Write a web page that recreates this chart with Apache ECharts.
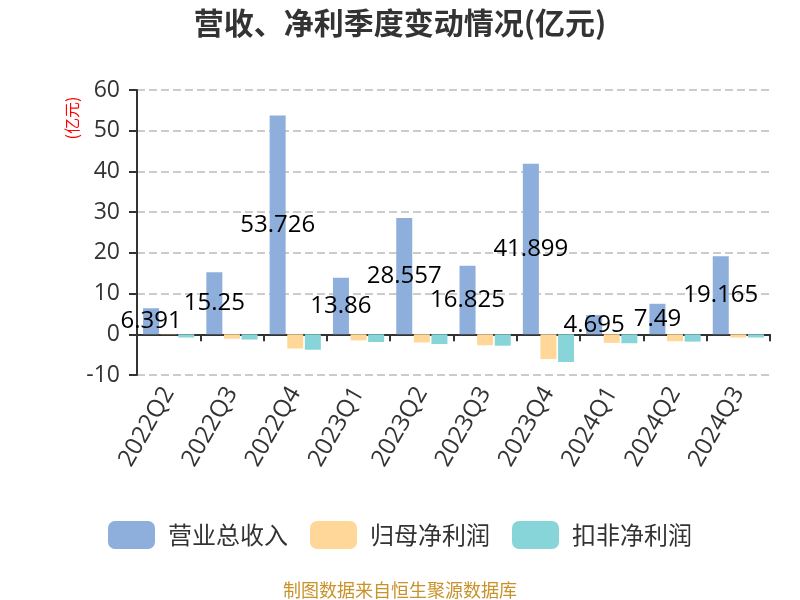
<!DOCTYPE html>
<html><head><meta charset="utf-8">
<script src="https://cdn.jsdelivr.net/npm/echarts@6/dist/echarts.min.js"></script>
<style>html,body{margin:0;padding:0;background:#fff}#c{width:800px;height:600px}</style>
</head><body><div id="c"></div>
<script>
var categories = ['2022Q2','2022Q3','2022Q4','2023Q1','2023Q2','2023Q3','2023Q4','2024Q1','2024Q2','2024Q3'];
var revenue = [6.391, 15.25, 53.726, 13.86, 28.557, 16.825, 41.899, 4.695, 7.49, 19.165];
var netProfit = [0.1, -1.1, -3.5, -1.5, -2.0, -2.7, -6.1, -2.1, -1.7, -0.8];
var deductedProfit = [-0.8, -1.3, -3.8, -1.9, -2.4, -2.8, -6.8, -2.2, -1.8, -0.8];
var seriesNames = ['营业总收入','归母净利润','扣非净利润'];
var FF = '"Open Sans", "Noto Sans CJK SC", sans-serif';
var CJK = '"Noto Sans CJK SC", sans-serif';

var chart = echarts.init(document.getElementById('c'));
chart.setOption({
  animation: false,
  textStyle: {fontFamily: FF},
  title: {text: '营收、净利季度变动情况(亿元)', left: 'center', top: 3,
    textStyle: {fontSize: 30, fontWeight: 'bold', color: '#333', fontFamily: CJK}},
  legend: {bottom: 46, itemWidth: 47, itemHeight: 28, itemGap: 22,
    icon: 'roundRect', textStyle: {fontSize: 24, color: '#333', fontFamily: CJK, padding: [0, 0, 0, 8]}, data: seriesNames},
  graphic: [
    {type: 'text', left: 'center', bottom: 1,
     style: {text: '制图数据来自恒生聚源数据库', fill: '#C8922A', fontSize: 18, fontFamily: CJK}},
    {type: 'text', x: 72, y: 118, rotation: Math.PI / 2,
     style: {text: '(亿元)', fill: 'red', fontSize: 16, fontFamily: CJK, align: 'center', verticalAlign: 'middle'}}
  ],
  grid: {left: 137, right: 30, top: 90, bottom: 225},
  xAxis: {type: 'category', data: categories,
    axisLine: {lineStyle: {color: '#333', width: 2}},
    axisTick: {show: true, lineStyle: {color: '#333', width: 2}, length: 7},
    axisLabel: {rotate: 60, fontSize: 24, color: '#333', interval: 0, margin: 14, fontFamily: FF}},
  yAxis: {type: 'value', min: -10, max: 60, interval: 10,
    axisLine: {show: true, lineStyle: {color: '#333', width: 2}},
    axisTick: {show: true, lineStyle: {color: '#333', width: 2}, length: 8},
    axisLabel: {fontSize: 23, color: '#333', margin: 17, fontFamily: FF},
    splitLine: {lineStyle: {type: 'dashed', color: '#ccc', width: 2}}},
  series: [
    {name: seriesNames[0], type: 'bar', data: revenue, barWidth: 16, barGap: '10%',
     itemStyle: {color: '#8EAEDB'},
     label: {show: true, position: 'inside', color: '#000', fontSize: 24, fontFamily: FF}},
    {name: seriesNames[1], type: 'bar', data: netProfit, barWidth: 16, barGap: '10%',
     itemStyle: {color: '#FFD899'}},
    {name: seriesNames[2], type: 'bar', data: deductedProfit, barWidth: 16, barGap: '10%',
     itemStyle: {color: '#88D5D9'}}
  ]
});
</script></body></html>
